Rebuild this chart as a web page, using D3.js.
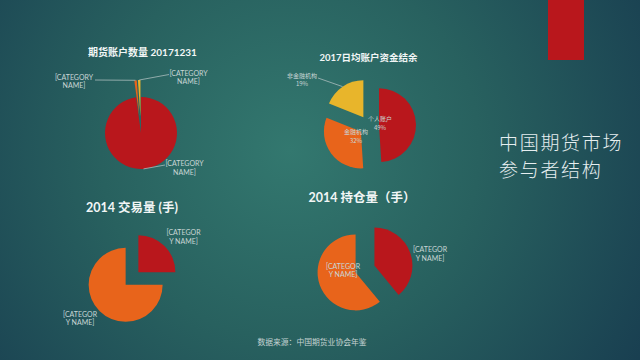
<!DOCTYPE html>
<html>
<head>
<meta charset="utf-8">
<script src="https://cdn.jsdelivr.net/npm/d3@7"></script>
<style>
  html, body { margin: 0; padding: 0; background: #1d4753; }
  svg { display: block; }
</style>
</head>
<body>
<svg id="chart" width="640" height="360"></svg>
<script>
// ---------- DATA ----------
const accountCategories = ["[CATEGORY NAME]", "[CATEGORY NAME]", "[CATEGORY NAME]"];
const accountValues = [97.8, 1.1, 1.1];

const fundCategories = ["个人账户", "金融机构", "非金融机构"];
const fundValues = [49, 32, 19];
const fundPercentLabels = ["49%", "32%", "19%"];

const volumeCategories = ["[CATEGORY NAME]", "[CATEGORY NAME]"];
const volumeValues = [25, 75];

const positionCategories = ["[CATEGORY NAME]", "[CATEGORY NAME]"];
const positionValues = [39, 61];

const chartTitles = ["期货账户数量 20171231", "2017日均账户资金结余", "2014 交易量 (手)", "2014 持仓量（手）"];
const mainTitleLines = ["中国期货市场", "参与者结构"];
const sourceNote = "数据来源：中国期货业协会年鉴";

// ---------- STYLE ----------
const RED = "#b9171c", ORANGE = "#e8641b", YELLOW = "#e8b52b";
const LABEL = "#c9d6d6", LINE = "#a9bcbc";

const svg = d3.select("#chart");
const defs = svg.append("defs");
const rg = defs.append("radialGradient").attr("id", "bg")
  .attr("gradientUnits", "userSpaceOnUse")
  .attr("cx", 290).attr("cy", 150).attr("r", 420);
rg.append("stop").attr("offset", "0%").attr("stop-color", "#33786f");
rg.append("stop").attr("offset", "45%").attr("stop-color", "#28615f");
rg.append("stop").attr("offset", "100%").attr("stop-color", "#183d50");
svg.append("rect").attr("width", 640).attr("height", 360).attr("fill", "url(#bg)");

// red accent bar
svg.append("rect").attr("x", 548).attr("y", 0).attr("width", 36).attr("height", 60).attr("fill", RED);

// main title
svg.append("g").selectAll("text").data(mainTitleLines).join("text")
  .attr("x", 499).attr("y", (d, i) => 149.7 + i * 27.7)
  .attr("font-family", "Noto Sans CJK SC").attr("font-weight", 300)
  .attr("font-size", 19).attr("letter-spacing", 1.7).attr("fill", "#e6eef0")
  .text(d => d);

// source
svg.append("text").attr("x", 312).attr("y", 341).attr("text-anchor", "middle")
  .attr("dominant-baseline", "central")
  .attr("font-family", "Noto Sans CJK SC").attr("font-size", 7.8)
  .attr("fill", "#c4d2d2").text(sourceNote);

const pie = d3.pie().sort(null).startAngle(0).endAngle(2 * Math.PI);

function drawPie(cfg) {
  const g = svg.append("g").attr("transform", `translate(${cfg.cx},${cfg.cy})`);
  const arcs = pie(cfg.values);
  const arc = d3.arc().innerRadius(0).outerRadius(cfg.r);
  const off = (d, i) => {
    const a = (d.startAngle + d.endAngle) / 2;
    return [Math.sin(a) * cfg.explode[i], -Math.cos(a) * cfg.explode[i]];
  };
  g.selectAll("path").data(arcs).join("path")
    .attr("transform", (d, i) => `translate(${off(d, i)})`)
    .attr("d", arc)
    .attr("fill", (d, i) => cfg.colors[i]);

  // title
  svg.append("text").attr("x", cfg.title.x).attr("y", cfg.title.y)
    .attr("text-anchor", "middle").attr("dominant-baseline", "central")
    .attr("font-family", "Lato, Noto Sans CJK SC").attr("font-weight", 700)
    .attr("font-size", cfg.title.size).attr("fill", "#f2f6f6")
    .text(cfg.title.text);

  // labels
  arcs.forEach((d, i) => {
    const L = cfg.labels[i];
    if (!L) return;
    if (L.line) {
      const a = (d.startAngle + d.endAngle) / 2;
      const o = off(d, i);
      const px = o[0] + Math.sin(a) * cfg.r * L.line.at;
      const py = o[1] - Math.cos(a) * cfg.r * L.line.at;
      g.append("line").attr("x1", px).attr("y1", py)
        .attr("x2", L.line.x - cfg.cx).attr("y2", L.line.y - cfg.cy)
        .attr("stroke", LINE).attr("stroke-width", 0.8);
    }
    L.lines.forEach((t, k) => {
      svg.append("text").attr("x", L.x).attr("y", L.y + k * L.dy)
        .attr("text-anchor", "middle").attr("dominant-baseline", "central")
        .attr("font-family", L.font).attr("font-size", L.size)
        .attr("fill", LABEL).text(t);
    });
  });
}

const catFont = "Lato, sans-serif";
function splitCat(name, mode) {
  // mode 1: "[CATEGORY" / "NAME]"; mode 2: "[CATEGOR" / "Y NAME]"
  return mode === 1 ? [name.slice(0, 9), name.slice(10)] : [name.slice(0, 8), name.slice(8)];
}

// Chart 1
drawPie({
  cx: 141, cy: 133, r: 36, values: accountValues, explode: [0, 17, 17],
  colors: [RED, ORANGE, YELLOW],
  title: { text: chartTitles[0], x: 142.5, y: 52, size: 10 },
  labels: [
    { lines: splitCat(accountCategories[0], 1), x: 184.5, y: 163.3, dy: 8.5, size: 7, font: catFont,
      line: { at: 1, x: 165, y: 165 } },
    { lines: splitCat(accountCategories[1], 1), x: 74, y: 76.7, dy: 8.5, size: 7, font: catFont,
      line: { at: 1, x: 95, y: 80 } },
    { lines: splitCat(accountCategories[2], 1), x: 188.5, y: 72.7, dy: 8.5, size: 7, font: catFont,
      line: { at: 1, x: 169, y: 74.5 } }
  ]
});

// Chart 2
drawPie({
  cx: 369, cy: 125.5, r: 37, values: fundValues, explode: [10, 10, 10],
  colors: [RED, ORANGE, YELLOW],
  title: { text: chartTitles[1], x: 368.5, y: 57, size: 9.5 },
  labels: [
    { lines: [fundCategories[0], fundPercentLabels[0]], x: 380, y: 118.3, dy: 9, size: 6, font: "Noto Sans CJK SC" },
    { lines: [fundCategories[1], fundPercentLabels[1]], x: 356, y: 131.7, dy: 8.8, size: 6, font: "Noto Sans CJK SC" },
    { lines: [fundCategories[2], fundPercentLabels[2]], x: 302, y: 75, dy: 8.5, size: 6, font: "Noto Sans CJK SC",
      line: { at: 1, x: 318, y: 78 } }
  ]
});

// Chart 3
drawPie({
  cx: 132, cy: 278.5, r: 37, values: volumeValues, explode: [9, 9],
  colors: [RED, ORANGE],
  title: { text: chartTitles[2], x: 132, y: 207, size: 12.5 },
  labels: [
    { lines: splitCat(volumeCategories[0], 2), x: 183.5, y: 232.3, dy: 8.5, size: 7, font: catFont },
    { lines: splitCat(volumeCategories[1], 2), x: 80, y: 314, dy: 8.4, size: 7, font: catFont }
  ]
});

// Chart 4
drawPie({
  cx: 365, cy: 269, r: 38, values: positionValues, explode: [10, 10],
  colors: [RED, ORANGE],
  title: { text: chartTitles[3], x: 362, y: 197, size: 12.5 },
  labels: [
    { lines: splitCat(positionCategories[0], 2), x: 430, y: 249.3, dy: 8.3, size: 7, font: catFont },
    { lines: splitCat(positionCategories[1], 2), x: 343, y: 266, dy: 8.4, size: 7, font: catFont }
  ]
});
</script>
</body>
</html>
